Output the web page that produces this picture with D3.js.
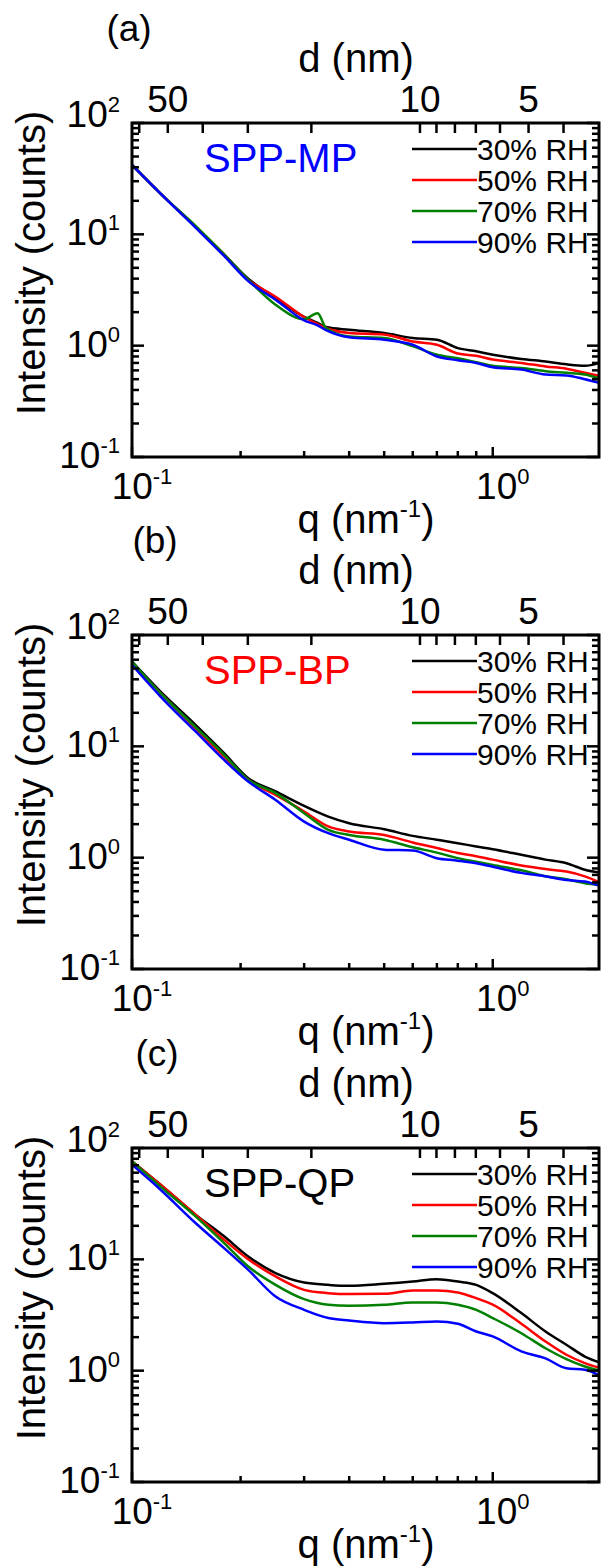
<!doctype html>
<html>
<head>
<meta charset="utf-8">
<script src="https://d3js.org/d3.v7.min.js"></script>
<style>
  body { margin: 0; background: #fff; }
  text { font-family: "Liberation Sans", Arial, sans-serif; fill: #000; }
</style>
</head>
<body>
<svg width="601" height="1566"></svg>
<script>
// q values (nm^-1)
var qA  = [0.1, 0.12, 0.15, 0.18, 0.21, 0.25, 0.3, 0.327, 0.345, 0.4, 0.5, 0.6, 0.7, 0.8, 0.9, 1.0, 1.2, 1.4, 1.6, 1.8, 2.0];
var qBC = [0.1, 0.12, 0.15, 0.18, 0.21, 0.25, 0.3, 0.35, 0.4, 0.5, 0.6, 0.7, 0.8, 0.9, 1.0, 1.2, 1.4, 1.6, 1.8, 2.0];

// (a) SPP-MP
var mp30 = [42, 23.2, 11.7, 6.6, 4.0, 2.68, 1.81, 1.60, 1.47, 1.39, 1.30, 1.17, 1.13, 0.95, 0.89, 0.83, 0.76, 0.72, 0.68, 0.66, 0.71];
var mp50 = [42, 23.2, 11.7, 6.6, 3.9, 2.75, 1.81, 1.56, 1.44, 1.30, 1.26, 1.09, 1.02, 0.85, 0.81, 0.75, 0.70, 0.65, 0.62, 0.57, 0.53];
var mp70 = [42, 23.2, 11.9, 6.6, 3.9, 2.33, 1.73, 1.96, 1.44, 1.21, 1.17, 0.99, 0.83, 0.77, 0.71, 0.66, 0.63, 0.59, 0.57, 0.55, 0.50];
var mp90 = [42, 23.2, 11.5, 6.4, 3.8, 2.59, 1.69, 1.52, 1.38, 1.19, 1.13, 1.02, 0.80, 0.74, 0.70, 0.64, 0.61, 0.55, 0.54, 0.50, 0.46];

// (b) SPP-BP
var bp30 = [57.6, 31, 15.6, 8.67, 5.17, 3.93, 2.92, 2.34, 2.04, 1.80, 1.57, 1.45, 1.35, 1.26, 1.19, 1.06, 0.96, 0.89, 0.78, 0.73];
var bp50 = [55, 30, 14.5, 8.09, 5.0, 3.66, 2.60, 1.91, 1.72, 1.60, 1.37, 1.22, 1.10, 1.03, 0.96, 0.85, 0.79, 0.75, 0.68, 0.59];
var bp70 = [57.6, 30, 14.9, 8.4, 5.0, 3.8, 2.51, 1.78, 1.60, 1.45, 1.24, 1.11, 0.99, 0.92, 0.86, 0.77, 0.68, 0.64, 0.59, 0.57];
var bp90 = [53.8, 28, 13.6, 7.55, 4.83, 3.30, 2.11, 1.66, 1.45, 1.18, 1.16, 0.99, 0.94, 0.89, 0.83, 0.73, 0.68, 0.63, 0.61, 0.55];

// (c) SPP-QP
var qp30 = [75.9, 46.8, 25.2, 16.1, 10.6, 7.52, 6.19, 5.90, 5.78, 6.03, 6.32, 6.64, 6.32, 5.90, 4.97, 3.29, 2.25, 1.71, 1.34, 1.17];
var qp50 = [75.9, 46.8, 25.2, 15.0, 10.0, 7.02, 5.32, 4.97, 4.87, 4.90, 5.25, 5.25, 5.04, 4.48, 3.91, 2.64, 1.83, 1.39, 1.17, 1.05];
var qp70 = [75.9, 45, 24.3, 14.0, 8.63, 5.90, 4.39, 3.91, 3.83, 3.91, 4.10, 4.10, 3.91, 3.52, 2.97, 2.17, 1.59, 1.27, 1.09, 0.99];
var qp90 = [70.8, 42.2, 21.2, 12.6, 8.05, 4.63, 3.52, 2.97, 2.82, 2.67, 2.71, 2.77, 2.64, 2.25, 2.03, 1.49, 1.29, 1.05, 1.02, 0.885];

var rhLabels = ["30% RH", "50% RH", "70% RH", "90% RH"];
var rhColors = ["#000000", "#ff0000", "#008000", "#0000ff"];

var yDecades = [0.1, 1, 10, 100];
var xDecades = [0.1, 1];
var dTicks = [60, 50, 40, 30, 20, 10, 9, 8, 7, 6, 5, 4];
var dLabels = [50, 10, 5];

var svg = d3.select("svg");
var left = 132, right = 599, plotH = 334;

function supLabel(sel, base, exp) {
  sel.append("tspan").text(base);
  sel.append("tspan").attr("font-size", 22).attr("dy", -15).text(exp);
}

function drawPanel(top, tag, tagX, name, nameColor, q, series) {
  var x = d3.scaleLog().domain([0.1, 1.97]).range([left, right]);
  var y = d3.scaleLog().domain([0.1, 100]).range([top + plotH, top]);
  var g = svg.append("g");
  var id = "clip" + tag.replace(/\W/g, "");

  g.append("clipPath").attr("id", id)
    .append("rect").attr("x", left).attr("y", top).attr("width", right - left).attr("height", plotH);

  // curves
  var line = d3.line()
    .x(function(d) { return x(d[0]); })
    .y(function(d) { return y(d[1]); })
    .curve(d3.curveMonotoneX);
  series.forEach(function(s, i) {
    g.append("path")
      .attr("clip-path", "url(#" + id + ")")
      .attr("d", line(q.map(function(v, j) { return [v, s[j]]; })))
      .attr("fill", "none")
      .attr("stroke", rhColors[i])
      .attr("stroke-width", 2.5);
  });

  // frame
  g.append("rect").attr("x", left).attr("y", top).attr("width", right - left).attr("height", plotH)
    .attr("fill", "none").attr("stroke", "#000").attr("stroke-width", 3);

  // y ticks, left and right
  var yt = [];
  yDecades.forEach(function(dec) {
    for (var k = 1; k <= 9; k++) { var v = dec * k; if (v <= 100) yt.push({ v: v, major: k === 1 }); }
  });
  yt.forEach(function(t) {
    var len = t.major ? 12 : 7;
    g.append("line").attr("x1", left).attr("x2", left + len).attr("y1", y(t.v)).attr("y2", y(t.v))
      .attr("stroke", "#000").attr("stroke-width", 2.5);
    g.append("line").attr("x1", right).attr("x2", right - len).attr("y1", y(t.v)).attr("y2", y(t.v))
      .attr("stroke", "#000").attr("stroke-width", 2.5);
  });
  yDecades.forEach(function(v) {
    var t = g.append("text").attr("x", left - 12).attr("y", y(v) + (v === 100 ? 4 : 11))
      .attr("text-anchor", "end").attr("font-size", 37);
    supLabel(t, "10", String(Math.round(Math.log10(v))));
  });

  // bottom ticks
  var xt = [];
  xDecades.forEach(function(dec) {
    for (var k = 1; k <= 9; k++) { var v = dec * k; if (v <= 1.97) xt.push({ v: v, major: k === 1 }); }
  });
  xt.forEach(function(t) {
    var len = t.major ? 10 : 6;
    g.append("line").attr("x1", x(t.v)).attr("x2", x(t.v)).attr("y1", top + plotH).attr("y2", top + plotH - len)
      .attr("stroke", "#000").attr("stroke-width", 2.5);
  });
  xDecades.forEach(function(v) {
    var t = g.append("text").attr("x", x(v) + 10).attr("y", top + plotH + 42)
      .attr("text-anchor", "middle").attr("font-size", 37);
    supLabel(t, "10", String(Math.round(Math.log10(v))));
  });

  // top axis in d = 2*pi/q
  dTicks.forEach(function(d) {
    var qv = 2 * Math.PI / d;
    if (qv < 0.1 || qv > 1.97) return;
    g.append("line").attr("x1", x(qv)).attr("x2", x(qv)).attr("y1", top).attr("y2", top + 10)
      .attr("stroke", "#000").attr("stroke-width", 2.5);
  });
  dLabels.forEach(function(d) {
    g.append("text").attr("x", x(2 * Math.PI / d)).attr("y", top - 11)
      .attr("text-anchor", "middle").attr("font-size", 37).text(d);
  });

  // titles
  g.append("text").attr("x", 356).attr("y", top - 51).attr("text-anchor", "middle")
    .attr("font-size", 40).text("d (nm)");
  var qt = g.append("text").attr("x", 366).attr("y", top + plotH + 76).attr("text-anchor", "middle")
    .attr("font-size", 40);
  qt.append("tspan").text("q (nm");
  qt.append("tspan").attr("font-size", 24).attr("dy", -16).text("-1");
  qt.append("tspan").attr("dy", 16).text(")");
  g.append("text").attr("transform", "translate(45," + (top + 140) + ") rotate(-90)")
    .attr("text-anchor", "middle").attr("font-size", 40).text("Intensity (counts)");
  g.append("text").attr("x", tagX).attr("y", top - 82).attr("text-anchor", "middle")
    .attr("font-size", 37).text(tag);

  // sample name
  g.append("text").attr("x", 204).attr("y", top + 49).attr("font-size", 40)
    .style("fill", nameColor).text(name);

  // legend
  rhLabels.forEach(function(lab, i) {
    var ly = top + 26 + i * 31;
    g.append("line").attr("x1", 412).attr("x2", 477).attr("y1", ly).attr("y2", ly)
      .attr("stroke", rhColors[i]).attr("stroke-width", 2.5);
    g.append("text").attr("x", 477).attr("y", ly + 11).attr("font-size", 30).text(lab);
  });
}

drawPanel(123, "(a)", 129, "SPP-MP", "#0000ff", qA, [mp30, mp50, mp70, mp90]);
drawPanel(635, "(b)", 155, "SPP-BP", "#ff0000", qBC, [bp30, bp50, bp70, bp90]);
drawPanel(1148, "(c)", 157, "SPP-QP", "#000000", qBC, [qp30, qp50, qp70, qp90]);
</script>
</body>
</html>
